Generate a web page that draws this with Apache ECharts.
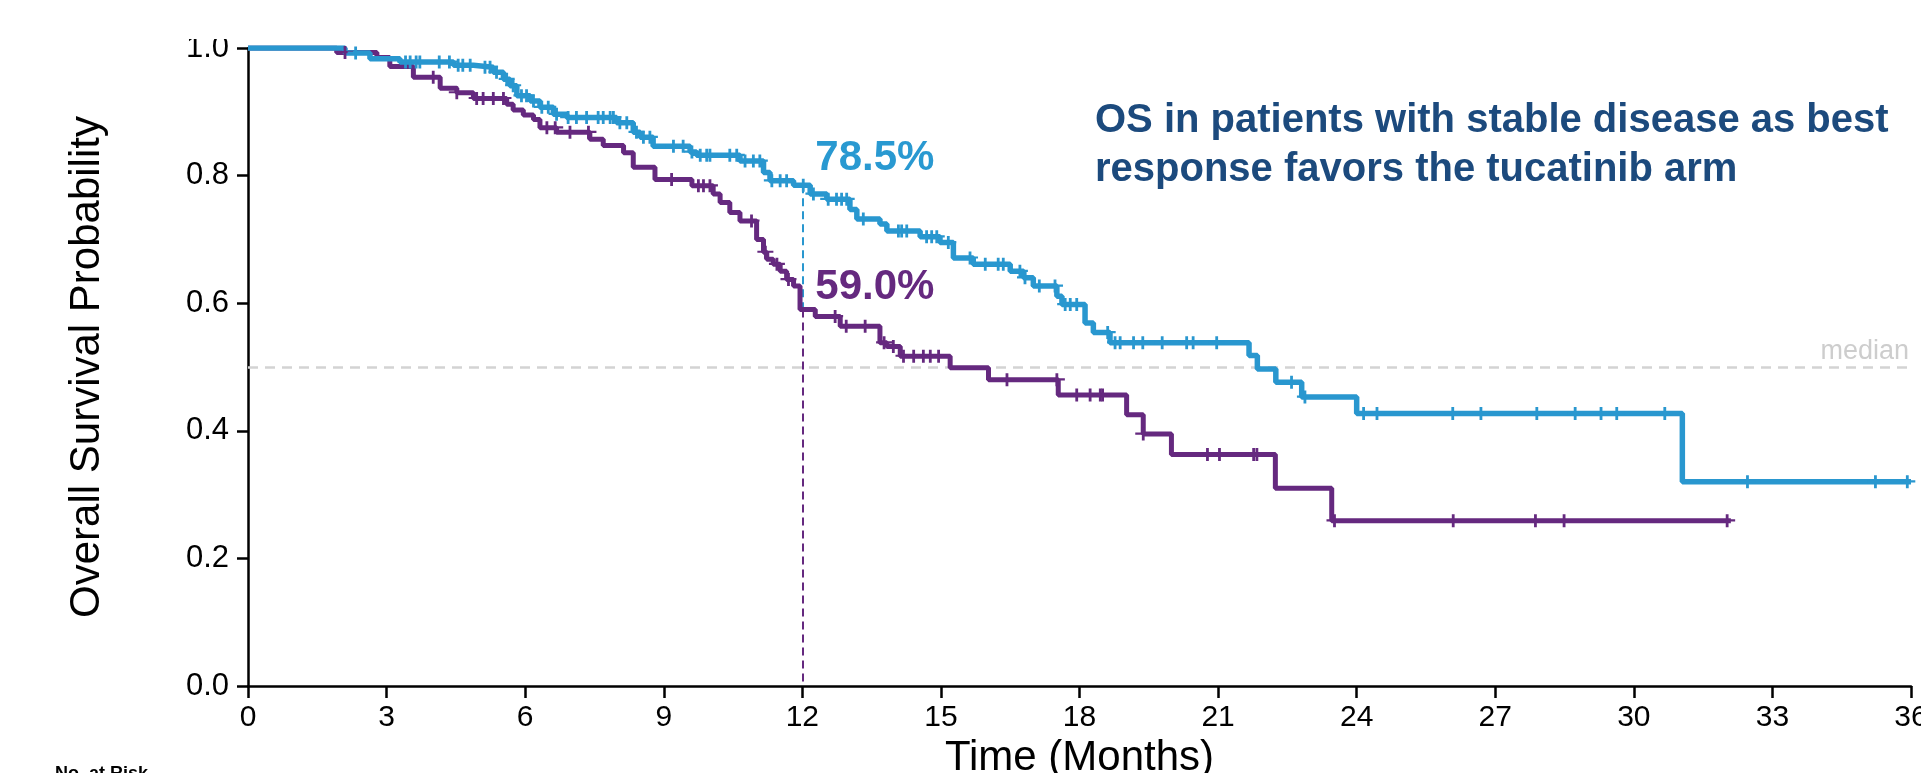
<!DOCTYPE html>
<html>
<head>
<meta charset="utf-8">
<script src="https://cdn.jsdelivr.net/npm/echarts@6/dist/echarts.min.js"></script>
<style>
  html, body { margin: 0; padding: 0; background: #ffffff; }
  #chart { width: 1921px; height: 773px; }
</style>
</head>
<body>
<div id="chart"></div>
<script>
// Kaplan-Meier step points: [month, survival probability from that month on]
const tucatinibSteps = [
  [0, 1.0], [2.10, 0.992], [2.64, 0.983], [3.29, 0.978], [4.45, 0.973], [4.88, 0.970],
  [5.31, 0.962], [5.53, 0.951], [5.67, 0.941], [5.82, 0.925], [6.11, 0.917], [6.32, 0.907],
  [6.61, 0.896], [6.90, 0.891], [7.98, 0.883], [8.34, 0.868], [8.49, 0.860], [8.77, 0.846],
  [9.57, 0.837], [9.71, 0.832], [10.65, 0.823], [11.16, 0.805], [11.30, 0.792], [11.81, 0.785],
  [12.17, 0.771], [12.53, 0.763], [13.03, 0.747], [13.18, 0.732], [13.68, 0.724], [13.83, 0.713],
  [14.55, 0.704], [14.98, 0.695], [15.27, 0.671], [15.70, 0.661], [16.50, 0.650], [16.79, 0.640],
  [17.00, 0.627], [17.51, 0.611], [17.62, 0.598], [18.12, 0.569], [18.30, 0.554], [18.66, 0.538],
  [21.67, 0.518], [21.85, 0.497], [22.25, 0.476], [22.81, 0.453], [24.00, 0.427], [31.05, 0.320],
  [36.0, 0.320]
];
const controlSteps = [
  [0, 1.0], [1.92, 0.993], [2.79, 0.985], [3.07, 0.971], [3.58, 0.954], [4.16, 0.937],
  [4.52, 0.930], [4.88, 0.921], [5.60, 0.912], [5.74, 0.903], [5.96, 0.895], [6.18, 0.888],
  [6.32, 0.875], [6.68, 0.868], [7.40, 0.857], [7.69, 0.847], [8.13, 0.836], [8.34, 0.813],
  [8.81, 0.794], [9.61, 0.784], [10.07, 0.771], [10.22, 0.758], [10.43, 0.742], [10.65, 0.729],
  [11.01, 0.700], [11.16, 0.680], [11.23, 0.669], [11.37, 0.661], [11.52, 0.650], [11.66, 0.637],
  [11.81, 0.627], [11.95, 0.590], [12.28, 0.579], [12.82, 0.564], [13.68, 0.538], [13.83, 0.532],
  [14.12, 0.517], [15.20, 0.499], [16.03, 0.480], [17.54, 0.456], [19.02, 0.425], [19.38, 0.395],
  [19.99, 0.363], [22.24, 0.310], [23.46, 0.259], [32.10, 0.259]
];
// Censoring times (months)
const tucatinibCensored = [
  2.33, 3.41, 3.51, 3.64, 3.72, 4.14, 4.36, 4.55, 4.65, 4.81, 5.13, 5.24, 5.38, 5.60, 5.74,
  5.92, 6.03, 6.18, 6.36, 6.50, 6.68, 6.93, 7.11, 7.33, 7.58, 7.69, 7.84, 7.91, 8.05, 8.20,
  8.41, 8.56, 8.70, 9.21, 9.42, 9.61, 9.79, 9.93, 10.00, 10.43, 10.58, 10.76, 10.94, 11.08,
  11.34, 11.52, 11.66, 12.02, 12.24, 12.56, 12.74, 12.85, 12.96, 13.32, 14.08, 14.15, 14.26,
  14.69, 14.80, 14.91, 15.16, 15.63, 15.96, 16.24, 16.35, 16.71, 16.82, 17.13, 17.47, 17.69,
  17.80, 17.94, 18.61, 18.77, 18.88, 19.17, 19.37, 19.79, 20.32, 20.46, 20.97, 22.59, 22.88,
  24.15, 24.44, 26.08, 26.69, 27.90, 28.73, 29.29, 29.63, 30.67, 32.46, 35.23, 35.92
];
const controlCensored = [
  2.10, 4.01, 4.52, 4.95, 5.09, 5.31, 5.53, 6.47, 6.65, 6.97, 7.37, 9.17, 9.75, 9.86, 10.00,
  10.90, 11.20, 11.45, 11.70, 12.71, 12.95, 13.36, 13.77, 13.97, 14.19, 14.41, 14.62, 14.77,
  14.95, 16.43, 17.51, 17.94, 18.23, 18.45, 18.50, 19.38, 20.77, 21.03, 21.77, 21.84, 23.52,
  26.09, 27.87, 28.49, 32.02
];
// 12-month landmark estimates
const landmarkMonth = 12;
const landmarkTucatinib = 0.785;
const landmarkControl = 0.590;
const medianLevel = 0.5;

const xTickValues = [0, 3, 6, 9, 12, 15, 18, 21, 24, 27, 30, 33, 36];
const yTickValues = [0.0, 0.2, 0.4, 0.6, 0.8, 1.0];

const BLUE = '#2997cf';
const BLUE_TEXT = '#2999d1';
const PURPLE = '#65297f';
const NAVY = '#1c4a7d';
const FONT = '"Liberation Sans", Arial, Helvetica, sans-serif';

function survivalAt(steps, t) {
  let s = steps[0][1];
  for (const [time, value] of steps) {
    if (time <= t) s = value; else break;
  }
  return s;
}

const censorSymbol = 'path://M6.6,0 H9.4 V5 H16 V7.2 H9.4 V13 H6.6 V7.2 H0 V5 H6.6 Z';

const chart = echarts.init(document.getElementById('chart'), null, { renderer: 'canvas' });

chart.setOption({
  animation: false,
  backgroundColor: '#ffffff',
  textStyle: { fontFamily: FONT },
  title: {
    text: 'OS in patients with stable disease as best\nresponse favors the tucatinib arm',
    left: 1095,
    top: 96,
    padding: 0,
    textStyle: { fontFamily: FONT, fontSize: 40, fontWeight: 'bold', color: NAVY, lineHeight: 49 }
  },
  grid: { left: 248, right: 10, top: 48, bottom: 87, containLabel: false, outerBoundsMode: 'none' },
  xAxis: {
    type: 'value',
    min: 0, max: 36, interval: 3,
    name: 'Time (Months)',
    nameLocation: 'middle',
    nameGap: 47,
    nameTextStyle: { fontFamily: FONT, fontSize: 42, color: '#000' },
    axisLine: { show: true, lineStyle: { color: '#000', width: 2.5 } },
    axisTick: { show: true, length: 12, lineStyle: { color: '#000', width: 2.5 },
      customValues: xTickValues },
    axisLabel: { fontFamily: FONT, fontSize: 30, color: '#000', margin: 17,
      customValues: xTickValues, formatter: v => String(v) },
    splitLine: { show: false }
  },
  yAxis: {
    type: 'value',
    min: 0, max: 1, interval: 0.2,
    name: 'Overall Survival Probability',
    nameLocation: 'middle',
    nameGap: 140,
    nameRotate: 90,
    nameTextStyle: { fontFamily: FONT, fontSize: 42, color: '#000' },
    axisLine: { show: true, lineStyle: { color: '#000', width: 2.5 } },
    axisTick: { show: true, length: 11, lineStyle: { color: '#000', width: 2.5 },
      customValues: yTickValues },
    axisLabel: { fontFamily: FONT, fontSize: 31, color: '#000', margin: 19,
      customValues: yTickValues, formatter: v => v.toFixed(1) },
    splitLine: { show: false }
  },
  graphic: [
    { type: 'rect', left: 130, top: 0, shape: { width: 116, height: 39 },
      style: { fill: '#ffffff' }, z: 100 },
    { type: 'text', left: 55, top: 765,
      style: { text: 'No. at Risk', font: 'bold 18px ' + FONT, fill: '#000' }, z: 100 }
  ],
  series: [
    {
      name: 'guides',
      type: 'line',
      data: [],
      z: 1,
      markLine: {
        silent: true,
        z: 1,
        symbol: ['none', 'none'],
        label: { show: false },
        data: [
          {
            yAxis: medianLevel,
            lineStyle: { color: '#d3d3d3', width: 2.5, type: [10, 7] },
            label: { show: true, formatter: 'median', position: 'insideEndTop', distance: 2,
              color: '#cdcdcd', fontSize: 27, fontFamily: FONT }
          },
          [
            { coord: [landmarkMonth, landmarkTucatinib],
              lineStyle: { color: BLUE, width: 2, type: [8, 5] } },
            { coord: [landmarkMonth, landmarkControl] }
          ],
          [
            { coord: [landmarkMonth, landmarkControl],
              lineStyle: { color: PURPLE, width: 2, type: [8, 5] } },
            { coord: [landmarkMonth, 0] }
          ]
        ]
      }
    },
    {
      name: 'Control',
      type: 'line',
      step: 'end',
      showSymbol: false,
      z: 2,
      data: controlSteps,
      lineStyle: { color: PURPLE, width: 5 },
      itemStyle: { color: PURPLE }
    },
    {
      name: 'Tucatinib',
      type: 'line',
      step: 'end',
      showSymbol: false,
      z: 3,
      data: tucatinibSteps,
      lineStyle: { color: BLUE, width: 5.5 },
      itemStyle: { color: BLUE }
    },
    {
      name: 'Control censored',
      type: 'scatter',
      z: 4,
      symbol: censorSymbol,
      symbolSize: [16, 13],
      itemStyle: { color: PURPLE, opacity: 1 },
      data: controlCensored.map(t => [t, survivalAt(controlSteps, t)])
    },
    {
      name: 'Tucatinib censored',
      type: 'scatter',
      z: 5,
      symbol: censorSymbol,
      symbolSize: [16, 13],
      itemStyle: { color: BLUE, opacity: 1 },
      data: tucatinibCensored.map(t => [t, survivalAt(tucatinibSteps, t)])
    },
    {
      name: 'Landmark',
      type: 'scatter',
      z: 6,
      symbolSize: 0,
      silent: true,
      itemStyle: { opacity: 1 },
      label: {
        show: true,
        position: 'right',
        distance: 13,
        opacity: 1,
        fontFamily: FONT,
        fontSize: 42,
        fontWeight: 'bold',
        formatter: p => (p.value[1] * 100).toFixed(1) + '%'
      },
      data: [
        { value: [landmarkMonth, landmarkTucatinib],
          label: { color: BLUE_TEXT, offset: [0, -27] } },
        { value: [landmarkMonth, landmarkControl],
          label: { color: PURPLE, offset: [0, -22] } }
      ]
    }
  ]
});
</script>
</body>
</html>
